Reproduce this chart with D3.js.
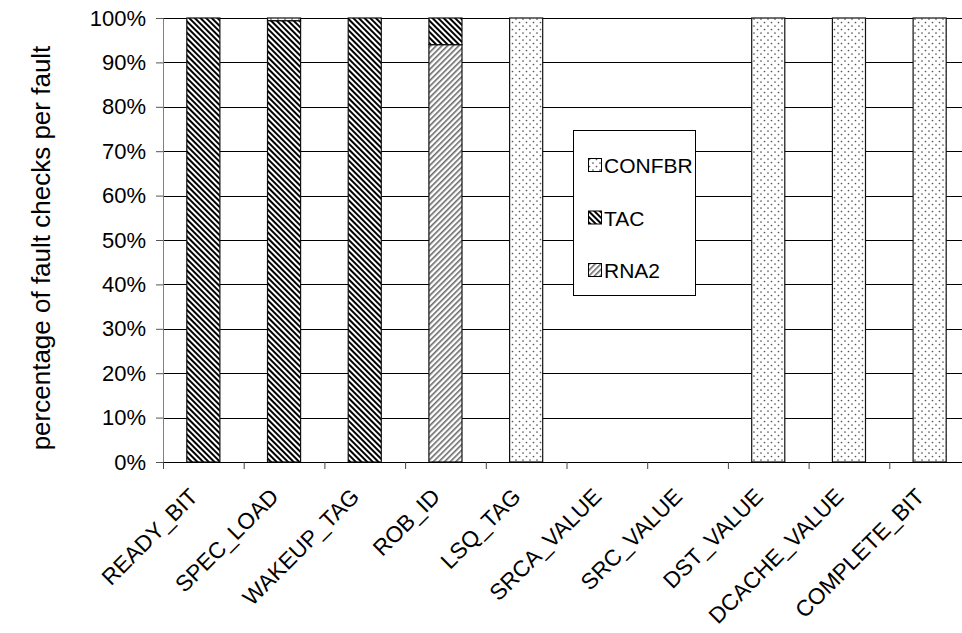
<!DOCTYPE html>
<html>
<head>
<meta charset="utf-8">
<script src="https://cdn.jsdelivr.net/npm/d3@7"></script>
<style>
  html, body { margin: 0; padding: 0; background: #fff; }
  svg { display: block; font-family: Arial, "Liberation Sans", sans-serif; }
</style>
</head>
<body>
<svg id="chart" width="962" height="633"></svg>
<script>
// Fault checks per fault type, stacked to 100%
const categories = ["READY_BIT", "SPEC_LOAD", "WAKEUP_TAG", "ROB_ID", "LSQ_TAG",
  "SRCA_VALUE", "SRC_VALUE", "DST_VALUE", "DCACHE_VALUE", "COMPLETE_BIT"];
const seriesNames = ["RNA2", "TAC", "CONFBR"];       // bottom to top
const rna2   = [0, 0, 0, 94, 0, 0, 0, 0, 0, 0];
const tac    = [100, 99.4, 100, 6, 0, 0, 0, 0, 0, 0];
const confbr = [0, 0.6, 0, 0, 100, 0, 0, 100, 100, 100];
const yTicks = [0, 10, 20, 30, 40, 50, 60, 70, 80, 90, 100];
const legendOrder = ["CONFBR", "TAC", "RNA2"];

const svg = d3.select("#chart");
const margin = { left: 163, top: 18, right: 970, bottom: 462 };

const x = d3.scaleBand().domain(categories).range([margin.left, margin.right]).paddingInner(0);
const y = d3.scaleLinear().domain([0, 100]).range([margin.bottom, margin.top]);
const barW = x.bandwidth() * 0.41;

// fill patterns
const defs = svg.append("defs");
const pTac = defs.append("pattern").attr("id", "pat-TAC").attr("patternUnits", "userSpaceOnUse")
  .attr("width", 4).attr("height", 4).attr("patternTransform", "rotate(-45)");
pTac.append("rect").attr("width", 4).attr("height", 4).attr("fill", "#fff");
pTac.append("rect").attr("width", 2).attr("height", 4).attr("fill", "#000");

const pRna = defs.append("pattern").attr("id", "pat-RNA2").attr("patternUnits", "userSpaceOnUse")
  .attr("width", 4).attr("height", 4).attr("patternTransform", "rotate(45)");
pRna.append("rect").attr("width", 4).attr("height", 4).attr("fill", "#fff");
pRna.append("rect").attr("width", 1.6).attr("height", 4).attr("fill", "#6a6a6a");

const pConf = defs.append("pattern").attr("id", "pat-CONFBR").attr("patternUnits", "userSpaceOnUse")
  .attr("width", 7).attr("height", 7);
pConf.append("rect").attr("width", 7).attr("height", 7).attr("fill", "#fff");
pConf.append("circle").attr("cx", 1.5).attr("cy", 1.5).attr("r", 0.85).attr("fill", "#555");
pConf.append("circle").attr("cx", 5).attr("cy", 5).attr("r", 0.85).attr("fill", "#555");

// gridlines
svg.append("g").selectAll("line").data(yTicks.filter(d => d > 0)).join("line")
  .attr("x1", margin.left).attr("x2", margin.right)
  .attr("y1", d => Math.round(y(d)) + 0.5).attr("y2", d => Math.round(y(d)) + 0.5)
  .attr("stroke", "#000").attr("stroke-width", 1);

// stacked bars
const rows = categories.map((c, i) => ({ cat: c, RNA2: rna2[i], TAC: tac[i], CONFBR: confbr[i] }));
const stack = d3.stack().keys(seriesNames)(rows);
svg.append("g").selectAll("g").data(stack).join("g")
  .attr("fill", d => `url(#pat-${d.key})`)
  .selectAll("rect").data(d => d.filter(s => s[1] - s[0] > 0)).join("rect")
  .attr("x", d => x(d.data.cat) + (x.bandwidth() - barW) / 2)
  .attr("width", barW)
  .attr("y", d => y(d[1]))
  .attr("height", d => y(d[0]) - y(d[1]))
  .attr("stroke", "#111").attr("stroke-width", 1.2);

// y axis
const yAxis = svg.append("g").attr("transform", `translate(${margin.left},0)`)
  .call(d3.axisLeft(y).tickValues(yTicks).tickFormat(d => d + "%").tickSize(7).tickSizeOuter(0));
yAxis.select(".domain").attr("stroke", "#808080");
yAxis.selectAll(".tick line").attr("stroke", "#555");
yAxis.selectAll(".tick text").attr("font-size", 22).attr("fill", "#000")
  .attr("font-family", "Arial, 'Liberation Sans', sans-serif").attr("x", -17);

// x axis
const xAxis = svg.append("g").attr("transform", `translate(0,${margin.bottom})`)
  .call(d3.axisBottom(x).tickSize(0).tickSizeOuter(0));
xAxis.select(".domain").attr("stroke", "#000");
xAxis.selectAll(".tick text")
  .attr("font-size", 22.5).attr("fill", "#000")
  .attr("font-family", "Arial, 'Liberation Sans', sans-serif")
  .attr("text-anchor", "end").attr("dy", 0).attr("y", 0)
  .attr("transform", "translate(-4,36) rotate(-45)");
// tick marks at category boundaries
svg.append("g").selectAll("line").data(categories).join("line")
  .attr("x1", d => x(d) + 0.5).attr("x2", d => x(d) + 0.5)
  .attr("y1", margin.bottom).attr("y2", margin.bottom + 7)
  .attr("stroke", "#444");

// axis title
svg.append("text")
  .attr("transform", `translate(50,248) rotate(-90)`)
  .attr("text-anchor", "middle").attr("font-size", 26).attr("fill", "#000")
  .text("percentage of fault checks per fault");

// legend
const lg = svg.append("g");
lg.append("rect").attr("x", 573.5).attr("y", 130.5).attr("width", 122).attr("height", 165)
  .attr("fill", "#fff").attr("stroke", "#000");
const items = lg.selectAll("g.item").data(legendOrder).join("g").attr("class", "item")
  .attr("transform", (d, i) => `translate(588,${165 + i * 52.5})`);
items.append("rect").attr("x", 0.5).attr("y", -6.5).attr("width", 13).attr("height", 13)
  .attr("fill", d => `url(#pat-${d})`).attr("stroke", "#000");
items.append("text").attr("x", 16).attr("y", 8).attr("font-size", 21).attr("fill", "#000")
  .text(d => d);
</script>
</body>
</html>
